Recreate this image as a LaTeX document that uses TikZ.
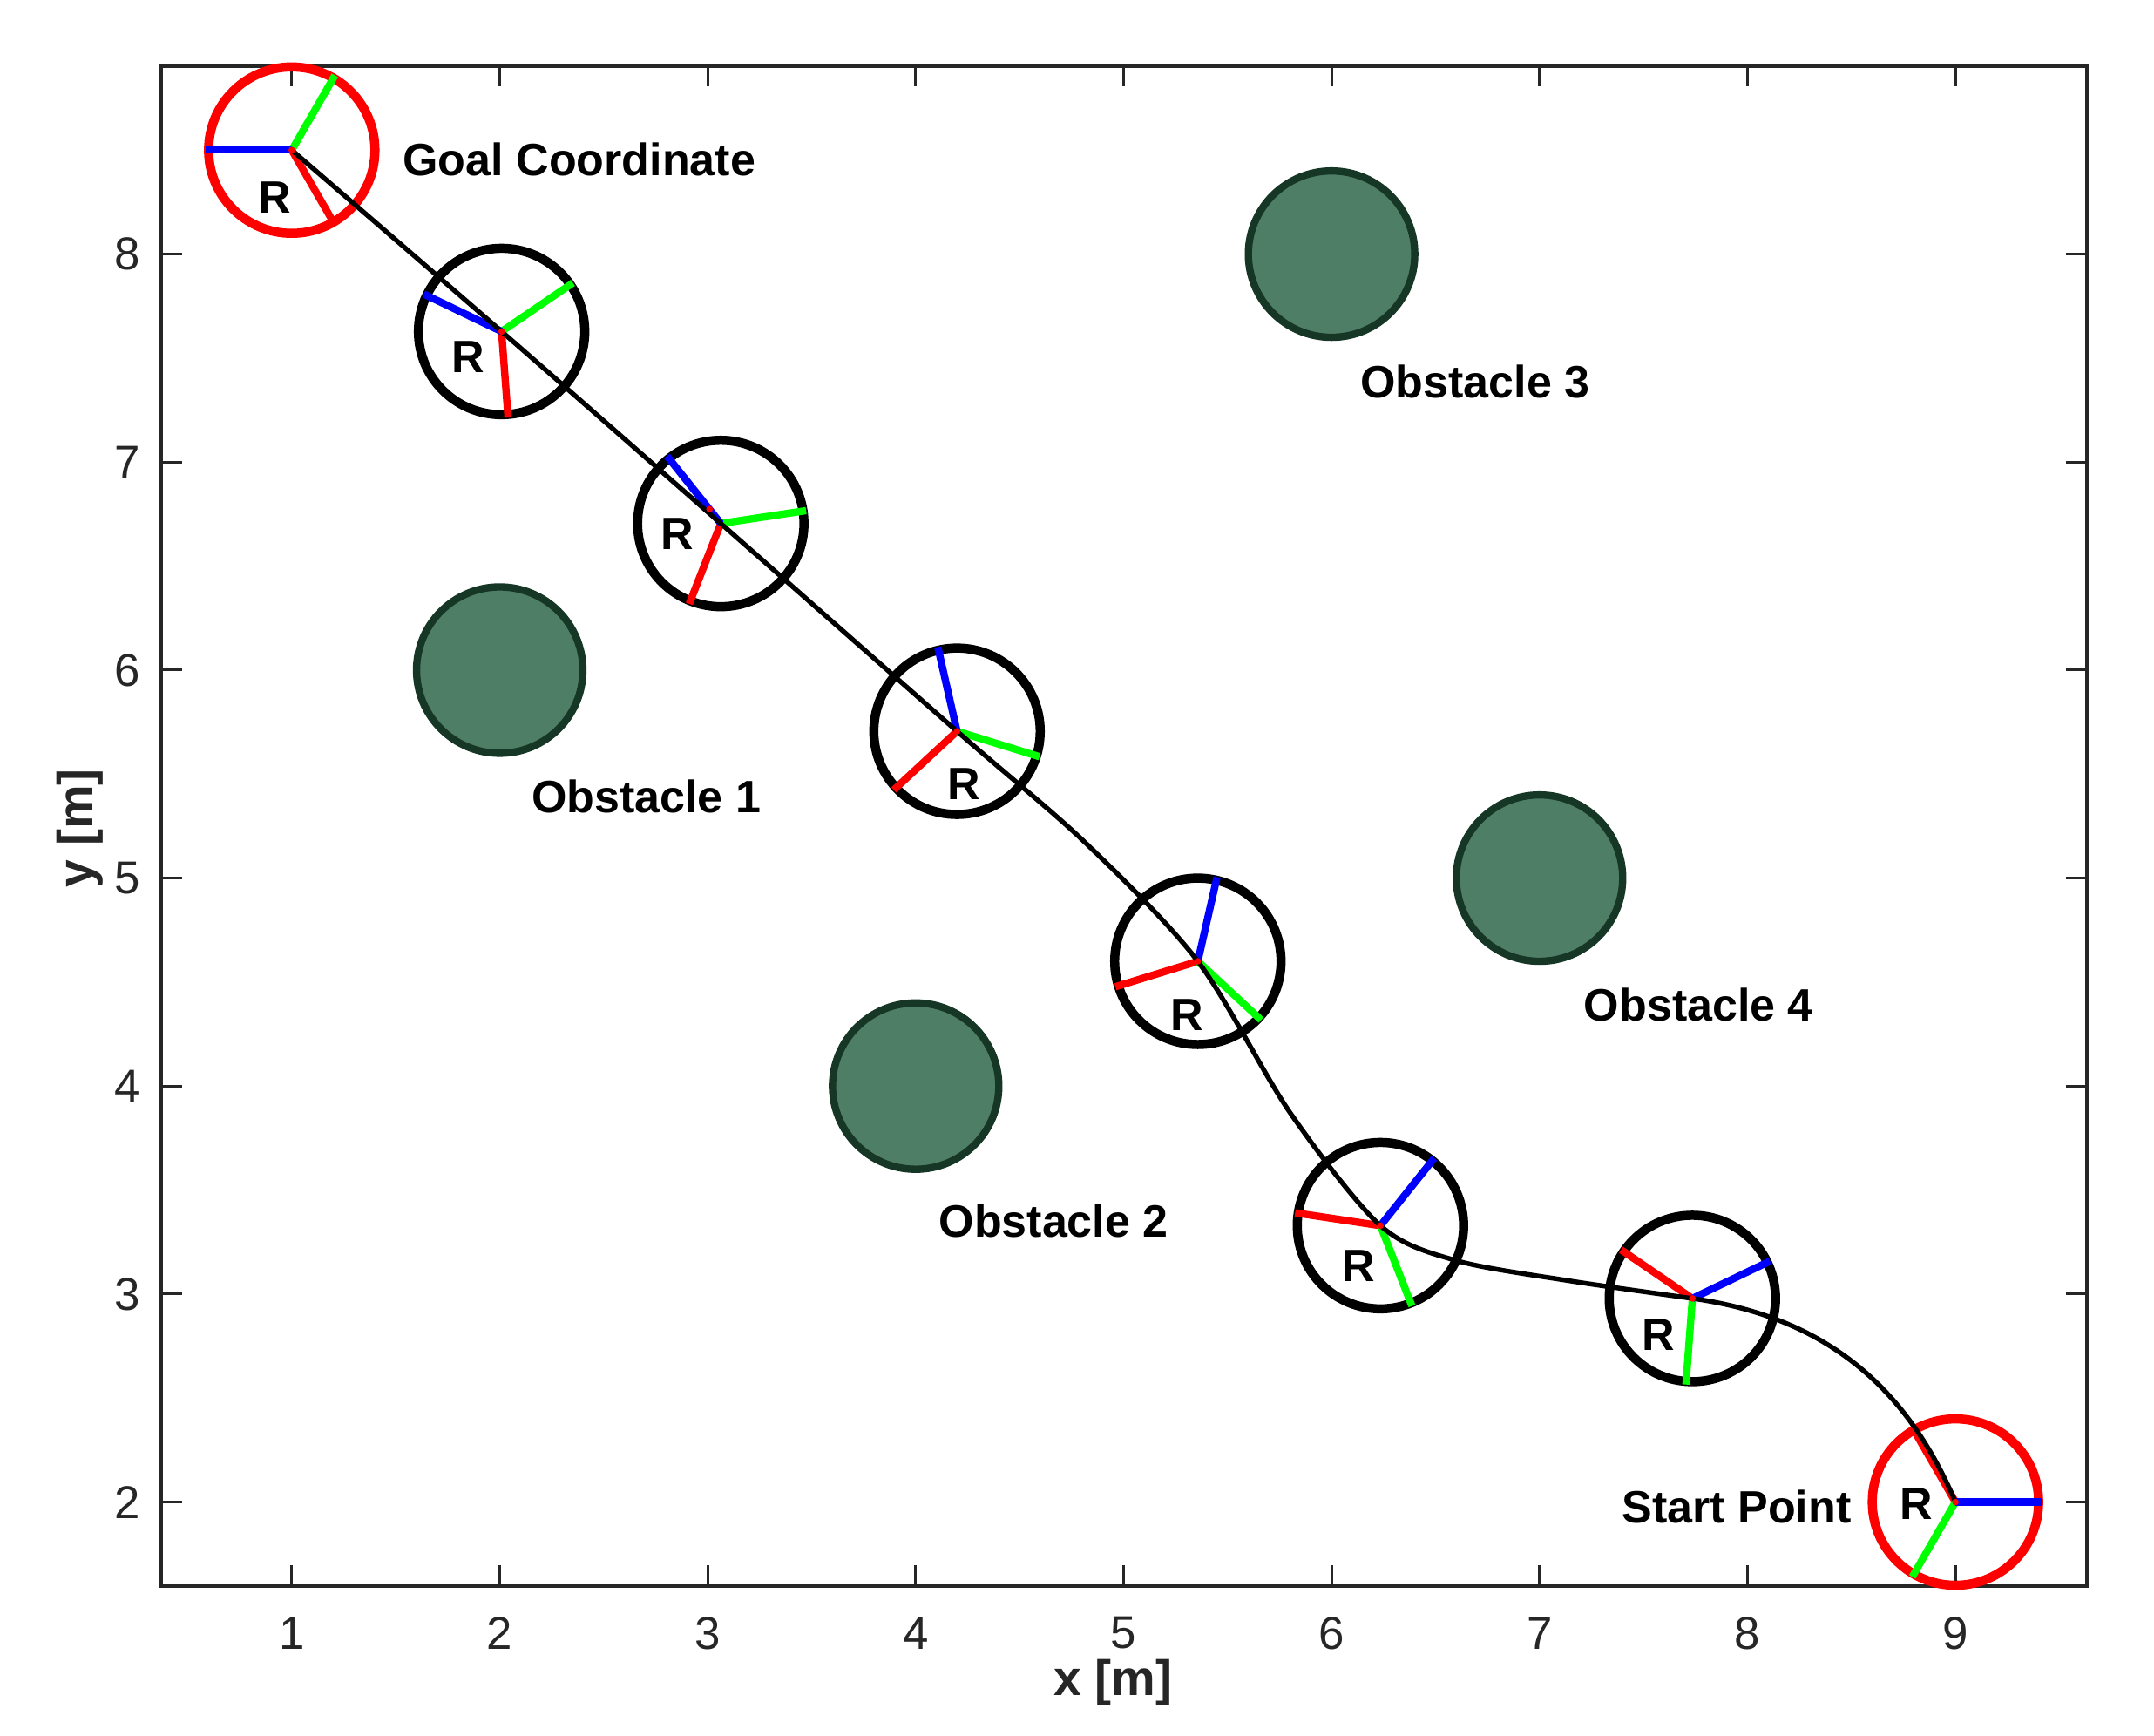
\documentclass[tikz,border=0pt]{standalone}
\usepackage{fontspec}
\setmainfont{Liberation Sans}

\definecolor{obfill}{RGB}{79,126,102}
\definecolor{obedge}{RGB}{22,55,37}
\definecolor{axgray}{RGB}{38,38,38}
\definecolor{axred}{RGB}{255,0,0}
\definecolor{axgreen}{RGB}{0,255,0}
\definecolor{axblue}{RGB}{0,0,255}

\tikzset{
  plotbox/.style={draw=axgray, line width=0.5pt},
  tickmark/.style={draw=axgray, line width=0.35pt},
  ticklbl/.style={text=axgray, inner sep=0pt, font=\fontsize{6.3}{7}\selectfont},
  axlbl/.style={text=axgray, inner sep=0pt, font=\fontsize{6.8}{8}\selectfont\bfseries},
  lbl/.style={inner sep=0pt, font=\fontsize{6.2}{7}\selectfont\bfseries},
  obstacle/.style={circle, draw=obedge, fill=obfill, line width=1pt, minimum size=0.8cm, inner sep=0pt},
  robot/.style={circle, draw=black, line width=1.25pt, minimum size=0.8cm, inner sep=0pt},
  endpose/.style={robot, draw=axred},
  redax/.style={draw=axred, line width=1pt},
  greenax/.style={draw=axgreen, line width=1pt},
  blueax/.style={draw=axblue, line width=1pt},
  traj/.style={draw=black, line width=0.65pt},
  centerdot/.style={fill=axred},
}

\begin{document}
\begin{tikzpicture}

\useasboundingbox (-0.403,0.877) rectangle (9.955,9.222);

% axes box
\draw[plotbox] (0.371,1.597) rectangle (9.633,8.905);
\foreach \i in {1,...,9} {
  \draw[tickmark] (\i,1.597) -- ++(0,0.1);
  \draw[tickmark] (\i,8.905) -- ++(0,-0.1);
  \node[ticklbl] (xt\i) at (\i,1.37) {\i};
}
\foreach \j in {2,...,8} {
  \draw[tickmark] (0.371,\j) -- ++(0.1,0);
  \draw[tickmark] (9.633,\j) -- ++(-0.1,0);
  \node[ticklbl, anchor=east] (yt\j) at (0.28,\j) {\j};
}
\node[axlbl] (xlab) at (4.95,1.134) {x [m]};
\node[axlbl, rotate=90] (ylab) at (-0.017,5.24) {y [m]};

% obstacles
\node[obstacle] (ob1) at (2,6) {};
\node[obstacle] (ob2) at (4,4) {};
\node[obstacle] (ob3) at (6,8) {};
\node[obstacle] (ob4) at (7,5) {};
\node[lbl, anchor=west] (lob1) at (2.146,5.392) {Obstacle 1};
\node[lbl, anchor=west] (lob2) at (4.105,3.354) {Obstacle 2};
\node[lbl, anchor=west] (lob3) at (6.132,7.388) {Obstacle 3};
\node[lbl, anchor=west] (lob4) at (7.207,4.390) {Obstacle 4};

% robot poses
\node[endpose] (r1) at (1,8.5) {};
\node[robot] (r2) at (2.009,7.628) {};
\node[robot] (r3) at (3.063,6.705) {};
\node[robot] (r4) at (4.199,5.706) {};
\node[robot] (r5) at (5.357,4.600) {};
\node[robot] (r6) at (6.235,3.329) {};
\node[robot] (r7) at (7.735,2.979) {};
\node[endpose] (r8) at (9,2) {};

\draw[redax] (r1.center) -- ++(-60:0.415);
\draw[greenax] (r1.center) -- ++(60:0.415);
\draw[blueax] (r1.center) -- ++(180:0.415);
\draw[redax] (r2.center) -- ++(-85.71:0.415);
\draw[greenax] (r2.center) -- ++(34.29:0.415);
\draw[blueax] (r2.center) -- ++(154.29:0.415);
\draw[redax] (r3.center) -- ++(-111.43:0.415);
\draw[greenax] (r3.center) -- ++(8.57:0.415);
\draw[blueax] (r3.center) -- ++(128.57:0.415);
\draw[redax] (r4.center) -- ++(-137.14:0.415);
\draw[greenax] (r4.center) -- ++(-17.14:0.415);
\draw[blueax] (r4.center) -- ++(102.86:0.415);
\draw[redax] (r5.center) -- ++(-162.86:0.415);
\draw[greenax] (r5.center) -- ++(-42.86:0.415);
\draw[blueax] (r5.center) -- ++(77.14:0.415);
\draw[redax] (r6.center) -- ++(171.43:0.415);
\draw[greenax] (r6.center) -- ++(-68.57:0.415);
\draw[blueax] (r6.center) -- ++(51.43:0.415);
\draw[redax] (r7.center) -- ++(145.71:0.415);
\draw[greenax] (r7.center) -- ++(-94.29:0.415);
\draw[blueax] (r7.center) -- ++(25.71:0.415);
\draw[redax] (r8.center) -- ++(120:0.415);
\draw[greenax] (r8.center) -- ++(-120:0.415);
\draw[blueax] (r8.center) -- ++(0:0.415);

% trajectory
\draw[traj] plot[smooth, tension=0.5] coordinates {(r1.center) (r2.center) (r3.center)
  (r4.center) (4.813,5.173) (r5.center) (5.80,3.873) (r6.center)
  (6.600,3.161) (7.142,3.064) (r7.center)} to[out=-8, in=113] (r8.center);

\fill[centerdot] (r1.center) circle (0.016);
\fill[centerdot] (r2.center) circle (0.016);
\fill[centerdot] (3.009,6.774) circle (0.016);
\fill[centerdot] (r4.center) circle (0.016);
\fill[centerdot] (r5.center) circle (0.016);
\fill[centerdot] (r6.center) circle (0.016);
\fill[centerdot] (r7.center) circle (0.016);
\fill[centerdot] (r8.center) circle (0.016);

\node[lbl] (lr1) at (0.916,8.272) {R};
\node[lbl] (lr2) at (1.849,7.504) {R};
\node[lbl] (lr3) at (2.853,6.653) {R};
\node[lbl] (lr4) at (4.233,5.451) {R};
\node[lbl] (lr5) at (5.305,4.343) {R};
\node[lbl] (lr6) at (6.130,3.134) {R};
\node[lbl] (lr7) at (7.570,2.805) {R};
\node[lbl] (lr8) at (8.814,1.993) {R};

\node[lbl, anchor=west] (lgoal) at (1.528,8.454) {Goal Coordinate};
\node[lbl, anchor=east] (lstart) at (8.506,1.979) {Start Point};

\end{tikzpicture}
\end{document}
